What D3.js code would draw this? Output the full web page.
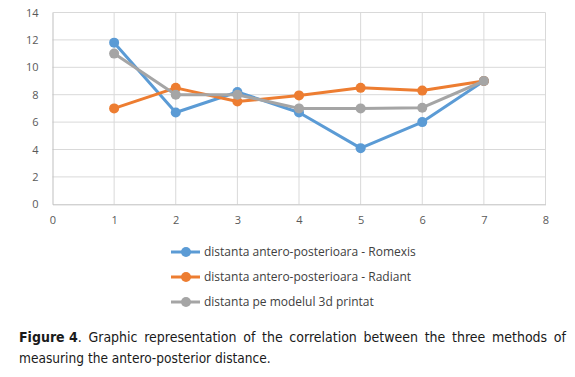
<!DOCTYPE html>
<html>
<head>
<meta charset="utf-8">
<script src="https://cdn.jsdelivr.net/npm/d3@7"></script>
<style>
  body { margin: 0; background: #fff; }
  svg { display: block; }
</style>
</head>
<body>
<div id="chart"></div>
<script>
// data
var xs = [1, 2, 3, 4, 5, 6, 7];
var romexis = [11.8, 6.7, 8.2, 6.7, 4.1, 6.0, 9.0];
var radiant = [7.0, 8.5, 7.5, 7.95, 8.5, 8.3, 9.0];
var printat = [11.0, 8.0, 8.0, 7.0, 7.0, 7.05, 9.0];
var seriesNames = [
  "distanta antero-posterioara - Romexis",
  "distanta antero-posterioara - Radiant",
  "distanta pe modelul 3d printat"
];
var xTicks = [0, 1, 2, 3, 4, 5, 6, 7, 8];
var yTicks = [0, 2, 4, 6, 8, 10, 12, 14];
var colors = ["#5B9BD5", "#ED7D31", "#A5A5A5"];

var W = 575, H = 377;
var margin = {top: 12.5, left: 52.5, right: 30, bottom: 173};
var width = 545.5 - margin.left,
    height = 204.3 - margin.top;

var svg = d3.select("#chart").append("svg")
            .attr("width", W)
            .attr("height", H);

var chart = svg.append("g")
               .attr("transform", "translate(" + margin.left + "," + margin.top + ")");

var x = d3.scaleLinear().domain([0, 8]).range([0, width]);
var y = d3.scaleLinear().domain([0, 14]).range([height, 0]);

// gridlines
chart.selectAll(".hgrid")
     .data(yTicks.filter(function(d) { return d > 0; }))
     .enter().append("line")
     .attr("x1", 0).attr("x2", width)
     .attr("y1", function(d) { return y(d); })
     .attr("y2", function(d) { return y(d); })
     .attr("stroke", "#d9d9d9").attr("stroke-width", 1);

chart.selectAll(".vgrid")
     .data(xTicks.filter(function(d) { return d > 0; }))
     .enter().append("line")
     .attr("x1", function(d) { return x(d); })
     .attr("x2", function(d) { return x(d); })
     .attr("y1", 0).attr("y2", height)
     .attr("stroke", "#d9d9d9").attr("stroke-width", 1);

// axes
var xAxis = d3.axisBottom(x).tickValues(xTicks).tickSize(0).tickPadding(12);
var yAxis = d3.axisLeft(y).tickValues(yTicks).tickSize(0).tickPadding(14);

var gx = chart.append("g")
     .attr("transform", "translate(0," + height + ")")
     .call(xAxis);
var gy = chart.append("g").call(yAxis);

[gx, gy].forEach(function(g) {
  g.select(".domain").attr("stroke", "#bfbfbf").attr("stroke-width", 1);
  g.selectAll("text")
   .style("font-family", "'Open Sans', sans-serif")
   .style("font-size", "11px")
   .attr("fill", "#595959");
});

// lines and markers
var allSeries = [romexis, radiant, printat];
var line = d3.line()
             .x(function(d, i) { return x(xs[i]); })
             .y(function(d) { return y(d); });

allSeries.forEach(function(vals, k) {
  chart.append("path")
       .datum(vals)
       .attr("d", line)
       .attr("fill", "none")
       .attr("stroke", colors[k])
       .attr("stroke-width", 3)
       .attr("stroke-linejoin", "round");
  chart.selectAll(".dot" + k)
       .data(vals)
       .enter().append("circle")
       .attr("cx", function(d, i) { return x(xs[i]); })
       .attr("cy", function(d) { return y(d); })
       .attr("r", 5)
       .attr("fill", colors[k]);
});

// legend
var legendY = [252, 277, 302];
var legend = svg.selectAll(".legend")
                .data(seriesNames)
                .enter().append("g")
                .attr("transform", function(d, i) { return "translate(171," + legendY[i] + ")"; });
legend.append("line")
      .attr("x1", 0).attr("x2", 29)
      .attr("stroke", function(d, i) { return colors[i]; })
      .attr("stroke-width", 3);
legend.append("circle")
      .attr("cx", 15).attr("r", 5)
      .attr("fill", function(d, i) { return colors[i]; });
legend.append("text")
      .attr("x", 33).attr("dy", "0.35em")
      .style("font-family", "'Open Sans', sans-serif")
      .style("font-size", "12px")
      .attr("fill", "#404040")
      .text(function(d) { return d; });

// caption, first line justified word by word
var capFont = "'DejaVu Sans Condensed', 'DejaVu Sans', sans-serif";
var words1 = ["Figure 4.", "Graphic", "representation", "of", "the", "correlation",
              "between", "the", "three", "methods", "of"];
var cap1 = svg.append("g");
var placed = words1.map(function(w, i) {
  var t = cap1.append("text")
              .attr("y", 342)
              .style("font-family", capFont)
              .style("font-size", "14px")
              .attr("fill", "#1a1a1a");
  if (i == 0) {
    t.append("tspan").style("font-weight", "bold").text("Figure 4");
    t.append("tspan").text(".");
  } else {
    t.text(w);
  }
  return t;
});
var widths = placed.map(function(t) { return t.node().getComputedTextLength(); });
var total = d3.sum(widths);
var gap = (566 - 19 - total) / (words1.length - 1);
var cx = 19;
placed.forEach(function(t, i) {
  t.attr("x", cx);
  cx += widths[i] + gap;
});

svg.append("text")
   .attr("x", 19).attr("y", 363)
   .style("font-family", capFont)
   .style("font-size", "13.6px")
   .attr("fill", "#1a1a1a")
   .text("measuring the antero-posterior distance.");
</script>
</body>
</html>
